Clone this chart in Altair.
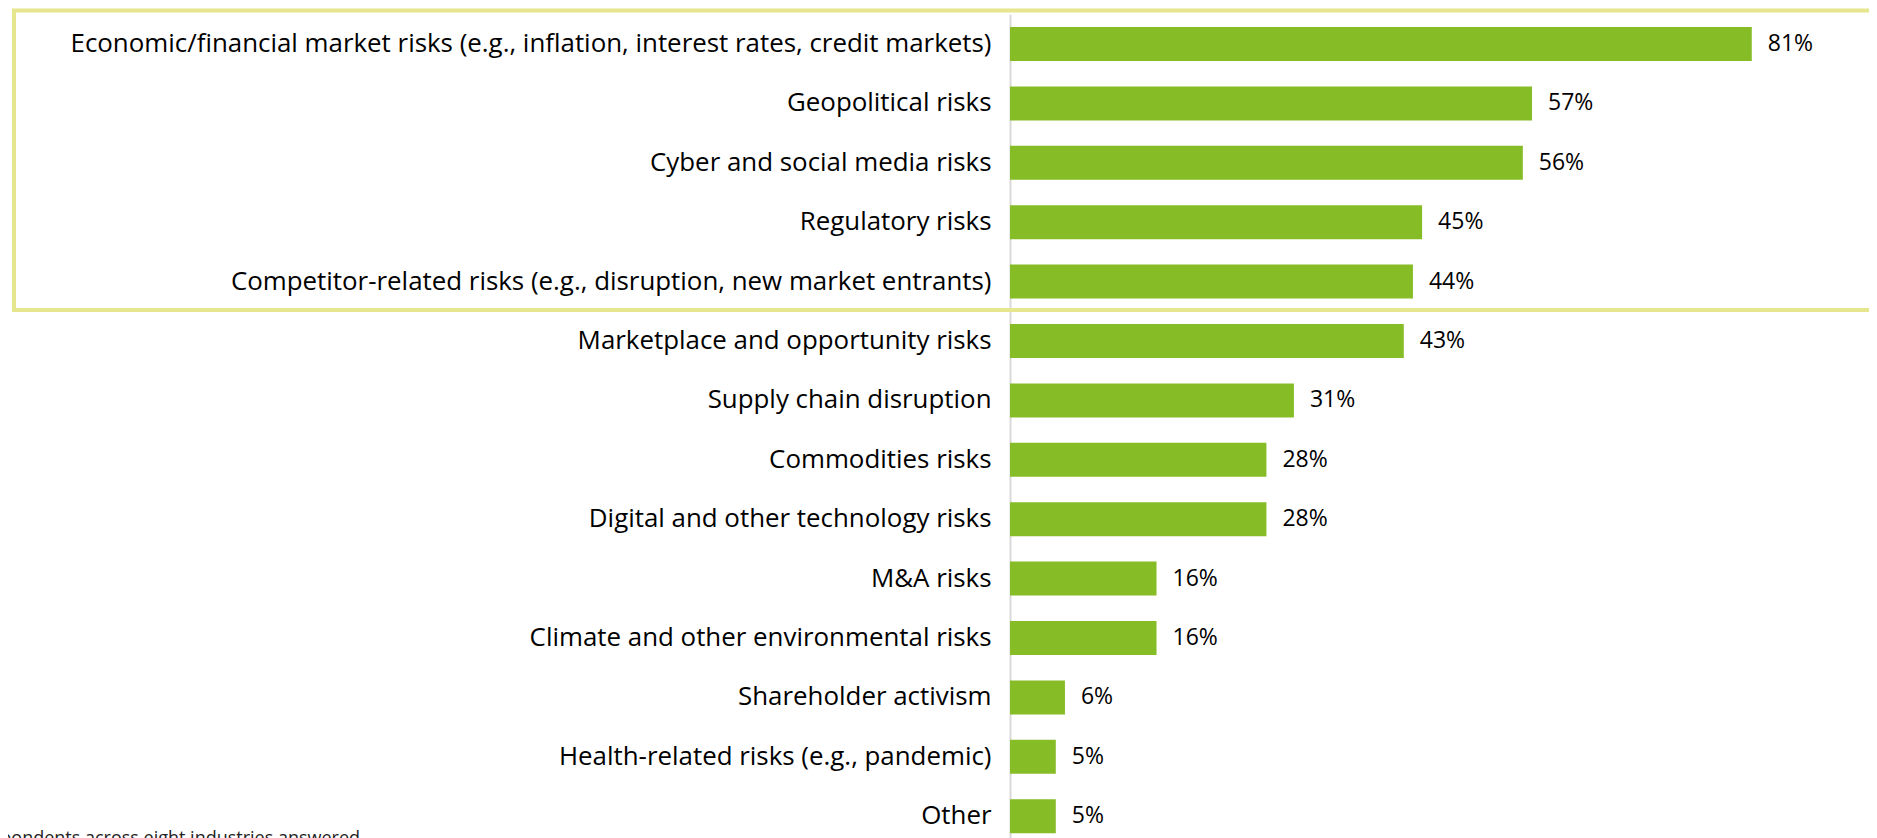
import altair as alt
import pandas as pd

categories = [
    "Economic/financial market risks (e.g., inflation, interest rates, credit markets)",
    "Geopolitical risks",
    "Cyber and social media risks",
    "Regulatory risks",
    "Competitor-related risks (e.g., disruption, new market entrants)",
    "Marketplace and opportunity risks",
    "Supply chain disruption",
    "Commodities risks",
    "Digital and other technology risks",
    "M&A risks",
    "Climate and other environmental risks",
    "Shareholder activism",
    "Health-related risks (e.g., pandemic)",
    "Other",
]
values = [81, 57, 56, 45, 44, 43, 31, 28, 28, 16, 16, 6, 5, 5]
labels = [f"{v}%" for v in values]
note_text = "Respondents across eight industries answered"

df = pd.DataFrame({"risk": categories, "value": values, "label": labels})
one = pd.DataFrame({"k": [0]})

FONT = "Open Sans"
GREEN = "#86bc25"

y_enc = alt.Y(
    "risk:N",
    sort=categories,
    scale=alt.Scale(paddingInner=0.4276, paddingOuter=0.2138),
    axis=alt.Axis(
        title=None,
        ticks=False,
        labelPadding=19,
        labelFontSize=25.9,
        labelFont=FONT,
        labelColor="#000000",
        domainColor="#d9d9d9",
        domainWidth=2,
        labelLimit=0,
    ),
)
x_enc = alt.X("value:Q", scale=alt.Scale(domain=[0, 93.8]), axis=None)

border = alt.Chart(one).mark_rect(
    fill="transparent", stroke="#e6e68f", strokeWidth=4
).encode(
    x=alt.value(-996), x2=alt.value(900), y=alt.value(-3.8), y2=alt.value(295.7)
)

bars = alt.Chart(df).mark_bar(color=GREEN).encode(x=x_enc, y=y_enc)

texts = alt.Chart(df).mark_text(
    align="left", dx=16, fontSize=23, font=FONT, color="#000000"
).encode(x=x_enc, y=y_enc, text="label:N")

note = alt.Chart(one).mark_text(
    align="right", baseline="top", fontSize=18, font=FONT, color="#222222"
).encode(x=alt.value(-650), y=alt.value(816), text=alt.value(note_text))

chart = alt.layer(border, bars, texts, note).properties(
    width=859,
    height=831.6,
    autosize=alt.AutoSizeParams(type="none"),
    padding={"left": 1002, "top": 6.3, "right": 0, "bottom": 0},
).configure_view(strokeWidth=0)

chart.save("out.html", embed_options={"renderer": "svg", "actions": False})
